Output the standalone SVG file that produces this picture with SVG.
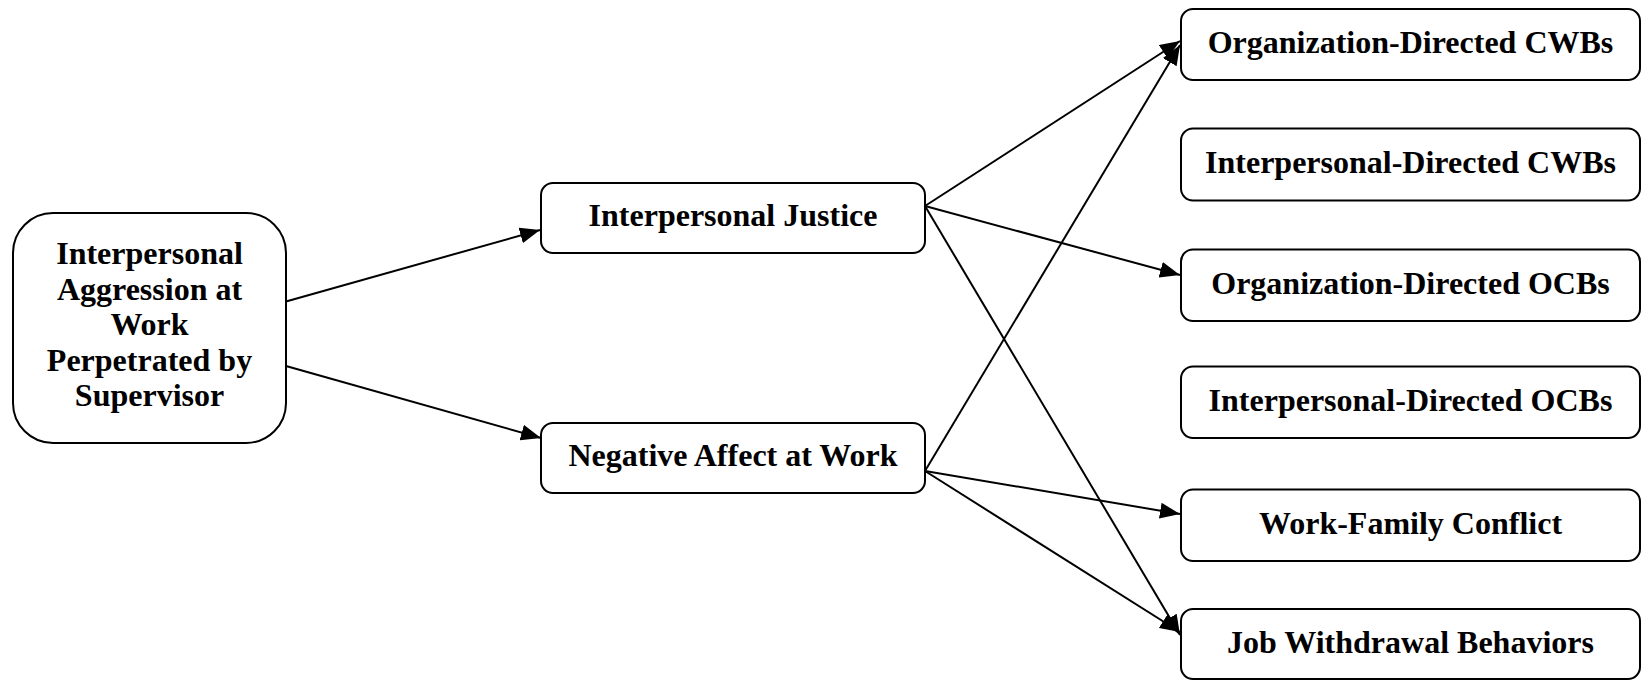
<svg xmlns="http://www.w3.org/2000/svg" width="1642" height="680" viewBox="0 0 1642 680">
<defs>
<style>
.box{fill:#fff;stroke:#000;stroke-width:2}
.t{font-family:"Liberation Serif","Times New Roman",serif;font-weight:bold;font-size:32px;fill:#000;text-anchor:middle}
.c{stroke:#000;stroke-width:2;fill:none;marker-end:url(#arr)}
</style>
<marker id="arr" markerUnits="userSpaceOnUse" markerWidth="22" markerHeight="16" refX="20" refY="8" orient="auto">
<path d="M0,0 L20,8 L0,16 Z" fill="#000"/>
</marker>
</defs>
<g id="connectors">
<line class="c" x1="286" y1="301.5" x2="540" y2="230"/>
<line class="c" x1="286" y1="366" x2="541" y2="438"/>
<line class="c" x1="925" y1="206" x2="1180" y2="41"/>
<line class="c" x1="925" y1="206" x2="1180" y2="275"/>
<line class="c" x1="925" y1="206" x2="1180" y2="635"/>
<line class="c" x1="925" y1="471" x2="1180" y2="45"/>
<line class="c" x1="925" y1="471" x2="1180" y2="514"/>
<line class="c" x1="925" y1="471" x2="1180" y2="632"/>
</g>
<g id="aggression">
<rect class="box" x="13" y="213" width="273" height="230" rx="40"/>
<text class="t" x="149.5" y="264">Interpersonal</text>
<text class="t" x="149.5" y="299.5">Aggression at</text>
<text class="t" x="149.5" y="335">Work</text>
<text class="t" x="149.5" y="370.5">Perpetrated by</text>
<text class="t" x="149.5" y="406">Supervisor</text>
</g>
<g id="justice">
<rect class="box" x="541" y="183" width="384" height="70" rx="12"/>
<text class="t" x="733" y="226">Interpersonal Justice</text>
</g>
<g id="negaffect">
<rect class="box" x="541" y="423" width="384" height="70" rx="12"/>
<text class="t" x="733" y="466">Negative Affect at Work</text>
</g>
<g id="orgcwb">
<rect class="box" x="1181" y="9" width="459" height="71" rx="12"/>
<text class="t" x="1410.5" y="53">Organization-Directed CWBs</text>
</g>
<g id="intcwb">
<rect class="box" x="1181" y="128.5" width="459" height="72" rx="12"/>
<text class="t" x="1410.5" y="173">Interpersonal-Directed CWBs</text>
</g>
<g id="orgocb">
<rect class="box" x="1181" y="249.5" width="459" height="71.5" rx="12"/>
<text class="t" x="1410.5" y="294">Organization-Directed OCBs</text>
</g>
<g id="intocb">
<rect class="box" x="1181" y="366.5" width="459" height="71.5" rx="12"/>
<text class="t" x="1410.5" y="411">Interpersonal-Directed OCBs</text>
</g>
<g id="wfc">
<rect class="box" x="1181" y="489.5" width="459" height="71.5" rx="12"/>
<text class="t" x="1410.5" y="534">Work-Family Conflict</text>
</g>
<g id="withdrawal">
<rect class="box" x="1181" y="609" width="459" height="70" rx="12"/>
<text class="t" x="1410.5" y="653">Job Withdrawal Behaviors</text>
</g>
</svg>
